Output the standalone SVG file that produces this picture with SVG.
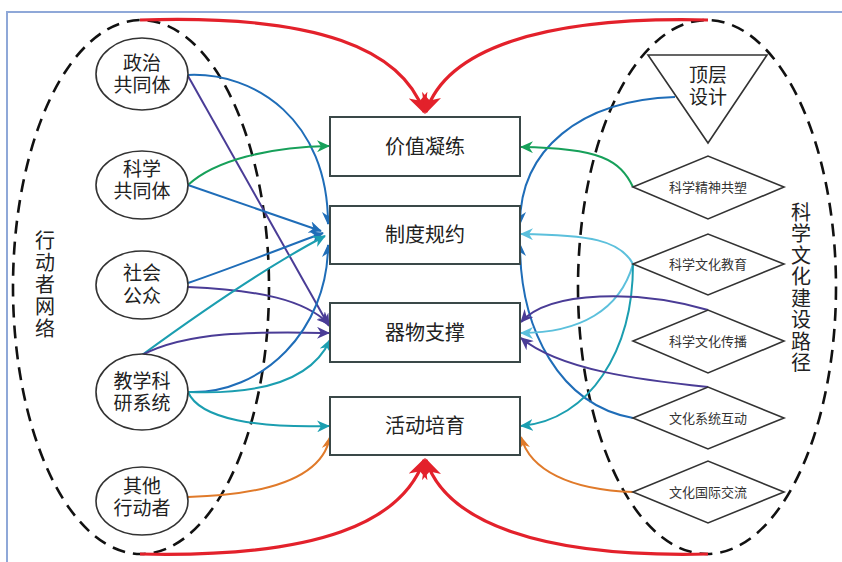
<svg xmlns="http://www.w3.org/2000/svg" width="842" height="562" viewBox="0 0 842 562">
<style>
.t{font-family:"Noto Sans CJK SC","Liberation Sans",sans-serif;fill:#222;text-anchor:middle}
.n{font-size:20px}
.e{font-size:19px}
.v{font-size:20px;writing-mode:vertical-rl;text-orientation:upright}
.d{font-size:13px;fill:#333}
.node{fill:#fff;stroke:#333;stroke-width:1.6}
.box{fill:#fff;stroke:#3a4848;stroke-width:2}
.dash{fill:none;stroke:#111;stroke-width:2.6;stroke-dasharray:13 8}
.c{fill:none;stroke-width:2}
.red{stroke:#e3212b;stroke-width:3.2}
.blue{stroke:#1f6db8}
.pur{stroke:#4a3c96}
.grn{stroke:#17a05a}
.teal{stroke:#1b9eb0}
.lb{stroke:#5cc0dc}
.org{stroke:#e07a2a}
</style>
<defs>
<marker id="mr" markerUnits="userSpaceOnUse" markerWidth="22" markerHeight="20" refX="18" refY="10" orient="auto"><path d="M0,0 L20,10 L0,20 L6,10 Z" fill="#e3212b"/></marker>
<marker id="mb" markerUnits="userSpaceOnUse" markerWidth="14" markerHeight="12" refX="12" refY="6" orient="auto"><path d="M0,0 L13,6 L0,12 L4,6 Z" fill="#1f6db8"/></marker>
<marker id="mp" markerUnits="userSpaceOnUse" markerWidth="14" markerHeight="12" refX="12" refY="6" orient="auto"><path d="M0,0 L13,6 L0,12 L4,6 Z" fill="#4a3c96"/></marker>
<marker id="mg" markerUnits="userSpaceOnUse" markerWidth="14" markerHeight="12" refX="12" refY="6" orient="auto"><path d="M0,0 L13,6 L0,12 L4,6 Z" fill="#17a05a"/></marker>
<marker id="mt" markerUnits="userSpaceOnUse" markerWidth="14" markerHeight="12" refX="12" refY="6" orient="auto"><path d="M0,0 L13,6 L0,12 L4,6 Z" fill="#1b9eb0"/></marker>
<marker id="ml" markerUnits="userSpaceOnUse" markerWidth="14" markerHeight="12" refX="12" refY="6" orient="auto"><path d="M0,0 L13,6 L0,12 L4,6 Z" fill="#5cc0dc"/></marker>
<marker id="mo" markerUnits="userSpaceOnUse" markerWidth="14" markerHeight="12" refX="12" refY="6" orient="auto"><path d="M0,0 L13,6 L0,12 L4,6 Z" fill="#e07a2a"/></marker>
</defs>
<rect width="842" height="562" fill="#fff"/>
<path d="M7,562 L7,12 L842,12" fill="none" stroke="#8fa8d8" stroke-width="2"/>

<g id="actor-network">
<ellipse class="dash" cx="141" cy="287" rx="128" ry="267"/>
<text class="t v" x="45" y="285" letter-spacing="2">行动者网络</text>
</g>
<g id="path-group">
<ellipse class="dash" cx="707" cy="287" rx="129" ry="267"/>
<text class="t v" x="801" y="288" letter-spacing="1.5">科学文化建设路径</text>
</g>

<g id="connectors">
<path class="c red" d="M140,20 C320,14 402,50 424,112" marker-end="url(#mr)"/>
<path class="c red" d="M708,20 C540,16 446,50 426,112" marker-end="url(#mr)"/>
<path class="c red" d="M140,554 C320,558 402,522 424,460" marker-end="url(#mr)"/>
<path class="c red" d="M708,554 C540,558 446,522 426,460" marker-end="url(#mr)"/>

<path class="c blue" d="M188,75 C255,72 328,120 328,224" marker-end="url(#mb)"/>
<path class="c pur" d="M188,76 L329,326" marker-end="url(#mp)"/>
<path class="c grn" d="M188,185 C215,160 270,147 329,146" marker-end="url(#mg)"/>
<path class="c blue" d="M188,185 L321,231" marker-end="url(#mb)"/>
<path class="c blue" d="M188,283 C240,265 290,245 323,233" marker-end="url(#mb)"/>
<path class="c pur" d="M188,287 C260,290 305,300 329,324" marker-end="url(#mp)"/>
<path class="c teal" d="M142,355 C190,320 260,270 325,236" marker-end="url(#mt)"/>
<path class="c pur" d="M142,355 C190,330 260,332 329,333" marker-end="url(#mp)"/>
<path class="c blue" d="M188,392 C262,395 328,330 328,245" marker-end="url(#mb)"/>
<path class="c teal" d="M188,392 C262,395 312,380 330,340" marker-end="url(#mt)"/>
<path class="c teal" d="M188,392 C200,420 260,428 329,426" marker-end="url(#mt)"/>
<path class="c org" d="M188,497 C262,495 322,480 330,437" marker-end="url(#mo)"/>

<path class="c blue" d="M675,97 C580,100 520,150 520,224" marker-end="url(#mb)"/>
<path class="c blue" d="M633,418 C560,405 520,330 520,244" marker-end="url(#mb)"/>
<path class="c grn" d="M633,187 C620,160 600,148 521,147" marker-end="url(#mg)"/>
<path class="c lb" d="M633,264 C620,240 590,235 521,234" marker-end="url(#ml)"/>
<path class="c lb" d="M633,264 C620,310 580,333 521,333" marker-end="url(#ml)"/>
<path class="c teal" d="M633,264 C633,350 590,420 521,426" marker-end="url(#mt)"/>
<path class="c pur" d="M708,310 C640,290 550,290 521,322" marker-end="url(#mp)"/>
<path class="c pur" d="M708,387 C640,380 560,370 521,338" marker-end="url(#mp)"/>
<path class="c org" d="M633,492 C570,490 530,470 521,437" marker-end="url(#mo)"/>
</g>

<g id="n-political"><ellipse class="node" cx="142" cy="74" rx="46" ry="36"/><text class="t e" x="142" y="70">政治</text><text class="t e" x="142" y="92">共同体</text></g>
<g id="n-science"><ellipse class="node" cx="142" cy="185" rx="46" ry="34"/><text class="t e" x="142" y="176">科学</text><text class="t e" x="142" y="198">共同体</text></g>
<g id="n-public"><ellipse class="node" cx="142" cy="285" rx="46" ry="34"/><text class="t e" x="142" y="280">社会</text><text class="t e" x="142" y="303">公众</text></g>
<g id="n-edu"><ellipse class="node" cx="142" cy="392" rx="46" ry="38"/><text class="t e" x="142" y="388">教学科</text><text class="t e" x="142" y="410">研系统</text></g>
<g id="n-other"><ellipse class="node" cx="142" cy="501" rx="46" ry="34"/><text class="t e" x="142" y="493">其他</text><text class="t e" x="142" y="515">行动者</text></g>

<g id="b-value"><rect class="box" x="330" y="117" width="190" height="59"/><text class="t n" x="425" y="154">价值凝练</text></g>
<g id="b-system"><rect class="box" x="330" y="206" width="190" height="58"/><text class="t n" x="425" y="242">制度规约</text></g>
<g id="b-object"><rect class="box" x="330" y="303" width="190" height="59"/><text class="t n" x="425" y="340">器物支撑</text></g>
<g id="b-activity"><rect class="box" x="330" y="397" width="190" height="58"/><text class="t n" x="425" y="433">活动培育</text></g>

<g id="r-top"><path class="node" d="M648,55 L767,55 L708,143 Z"/><text class="t e" x="708" y="82">顶层</text><text class="t e" x="708" y="104">设计</text></g>
<g id="r-spirit"><path class="node" d="M633,187 L708,156 L784,187 L708,219 Z"/><text class="t d" x="708" y="192">科学精神共塑</text></g>
<g id="r-edu"><path class="node" d="M633,264 L708,234 L784,264 L708,295 Z"/><text class="t d" x="708" y="269">科学文化教育</text></g>
<g id="r-spread"><path class="node" d="M633,341 L708,310 L784,341 L708,373 Z"/><text class="t d" x="708" y="346">科学文化传播</text></g>
<g id="r-interact"><path class="node" d="M633,418 L708,387 L784,418 L708,449 Z"/><text class="t d" x="708" y="423">文化系统互动</text></g>
<g id="r-intl"><path class="node" d="M633,492 L708,461 L784,492 L708,523 Z"/><text class="t d" x="708" y="497">文化国际交流</text></g>
</svg>
